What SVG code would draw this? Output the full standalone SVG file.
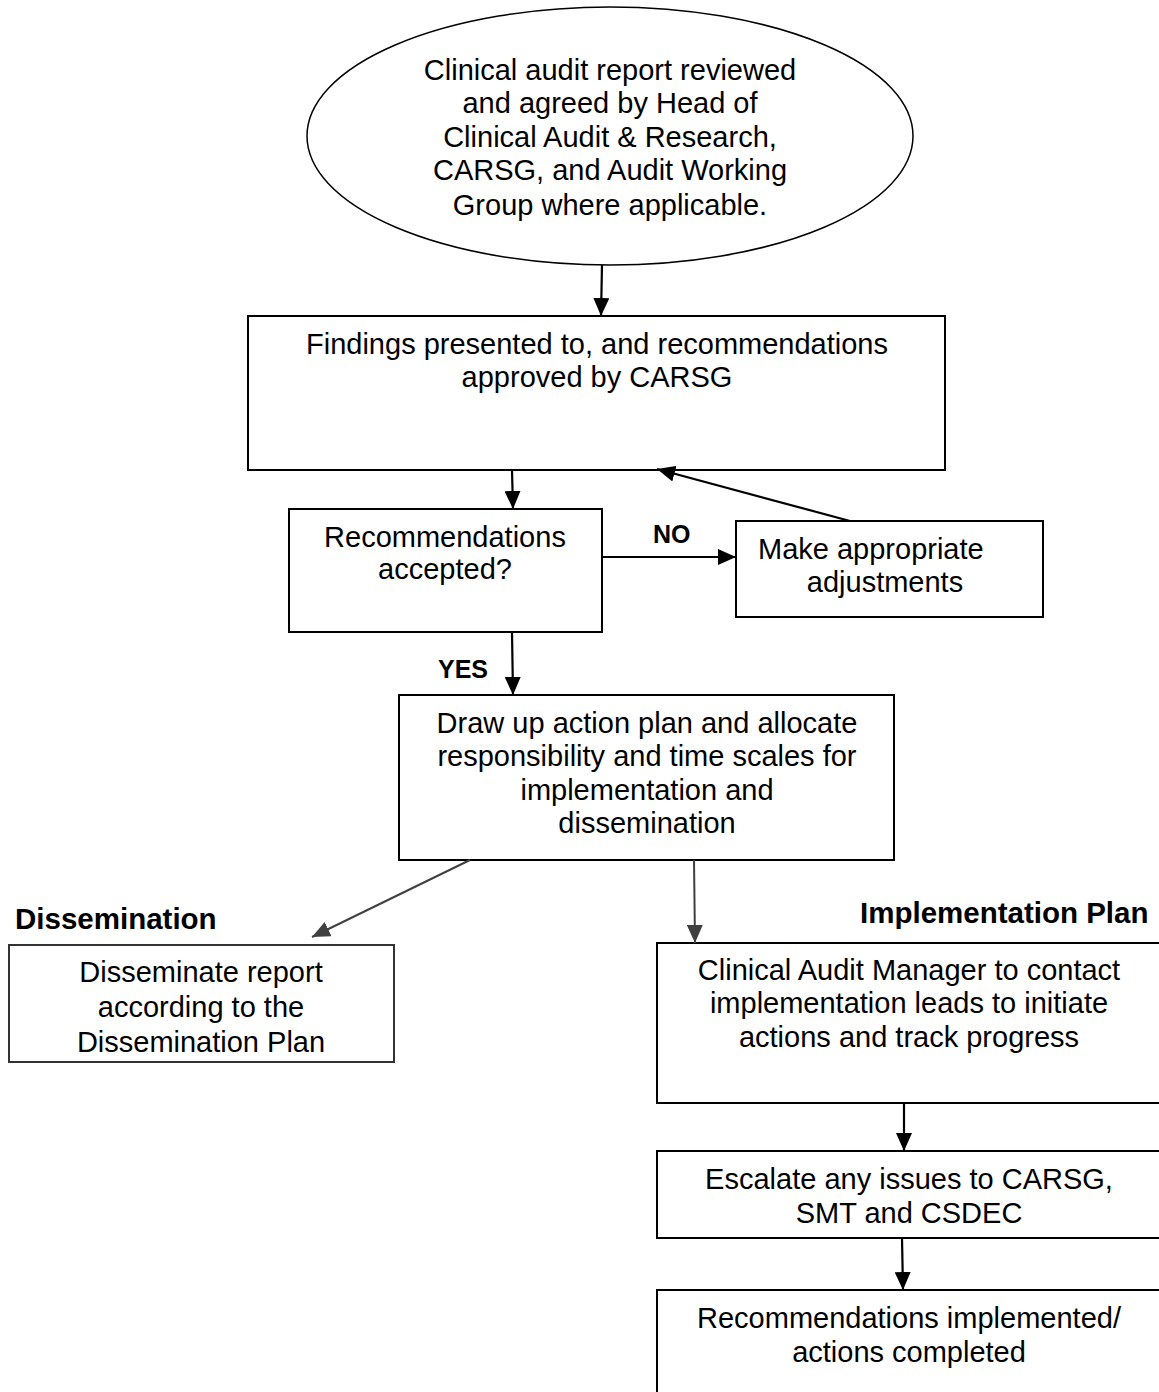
<svg xmlns="http://www.w3.org/2000/svg" width="1159" height="1392" viewBox="0 0 1159 1392">
<style>
.box{fill:#fff;stroke:#000;stroke-width:2}
.box5{fill:#fff;stroke:#333;stroke-width:2}
.t{font-family:"Liberation Sans",Arial,sans-serif;font-size:29px;fill:#000;text-anchor:middle}
.ts{font-family:"Liberation Sans",Arial,sans-serif;font-size:29px;fill:#000}
.lbl{font-family:"Liberation Sans",Arial,sans-serif;font-weight:bold;font-size:25px;fill:#000}
.hd{font-family:"Liberation Sans",Arial,sans-serif;font-weight:bold;font-size:29.5px;fill:#000}
.c{fill:none;stroke:#000;stroke-width:2.2}
.cg{fill:none;stroke:#404040;stroke-width:2}
</style>
<defs>
<marker id="ah" markerUnits="userSpaceOnUse" markerWidth="20" markerHeight="16" refX="18" refY="8" orient="auto"><path d="M0,0 L18,8 L0,16 z" fill="#000"/></marker>
<marker id="ahg" markerUnits="userSpaceOnUse" markerWidth="20" markerHeight="16" refX="18" refY="8" orient="auto"><path d="M0,0 L18,8 L0,16 z" fill="#404040"/></marker>
</defs>
<rect width="1159" height="1392" fill="#fff"/>
<g id="n1">
<ellipse cx="610" cy="136" rx="303" ry="129" fill="#fff" stroke="#000" stroke-width="1.5"/>
<text class="t" x="610" y="80">Clinical audit report reviewed</text>
<text class="t" x="610" y="113">and agreed by Head of</text>
<text class="t" x="610" y="147">Clinical Audit &amp; Research,</text>
<text class="t" x="610" y="180">CARSG, and Audit Working</text>
<text class="t" x="610" y="215">Group where applicable.</text>
</g>
<g id="n2">
<rect class="box" x="248" y="316" width="697" height="154"/>
<text class="t" x="597" y="354">Findings presented to, and recommendations</text>
<text class="t" x="597" y="387">approved by CARSG</text>
</g>
<g id="n3">
<rect class="box" x="289" y="509" width="313" height="123"/>
<text class="t" x="445" y="547">Recommendations</text>
<text class="t" x="445" y="579">accepted?</text>
</g>
<g id="n4">
<rect class="box" x="736" y="521" width="307" height="96"/>
<text class="ts" x="758" y="559">Make appropriate</text>
<text class="t" x="885" y="592">adjustments</text>
</g>
<g id="n5">
<rect class="box" x="399" y="695" width="495" height="165"/>
<text class="t" x="647" y="733">Draw up action plan and allocate</text>
<text class="t" x="647" y="766">responsibility and time scales for</text>
<text class="t" x="647" y="800">implementation and</text>
<text class="t" x="647" y="833">dissemination</text>
</g>
<g id="n6">
<rect class="box5" x="9" y="945" width="385" height="117"/>
<text class="t" x="201" y="982">Disseminate report</text>
<text class="t" x="201" y="1017">according to the</text>
<text class="t" x="201" y="1052">Dissemination Plan</text>
</g>
<g id="n7">
<rect class="box" x="657" y="943" width="520" height="160"/>
<text class="t" x="909" y="980">Clinical Audit Manager to contact</text>
<text class="t" x="909" y="1013">implementation leads to initiate</text>
<text class="t" x="909" y="1047">actions and track progress</text>
</g>
<g id="n8">
<rect class="box" x="657" y="1151" width="520" height="87"/>
<text class="t" x="909" y="1189">Escalate any issues to CARSG,</text>
<text class="t" x="909" y="1223">SMT and CSDEC</text>
</g>
<g id="n9">
<rect class="box" x="657" y="1290" width="520" height="120"/>
<text class="t" x="909" y="1328">Recommendations implemented/</text>
<text class="t" x="909" y="1362">actions completed</text>
</g>
<g id="labels">
<text class="lbl" x="653" y="543">NO</text>
<text class="lbl" x="438" y="678">YES</text>
<text class="hd" x="15" y="929">Dissemination</text>
<text class="hd" x="860" y="923">Implementation Plan</text>
</g>
<g id="connectors">
<line class="c" x1="602" y1="265" x2="601" y2="316" marker-end="url(#ah)"/>
<line class="c" x1="512" y1="470" x2="513" y2="509" marker-end="url(#ah)"/>
<line class="c" x1="602" y1="557" x2="736" y2="557" marker-end="url(#ah)"/>
<line class="c" x1="850" y1="521" x2="657" y2="469" marker-end="url(#ah)"/>
<line class="c" x1="512" y1="632" x2="513" y2="695" marker-end="url(#ah)"/>
<line class="cg" x1="470" y1="860" x2="312" y2="937" marker-end="url(#ahg)"/>
<line class="cg" x1="694" y1="860" x2="695" y2="943" marker-end="url(#ahg)"/>
<line class="c" x1="904" y1="1103" x2="904" y2="1151" marker-end="url(#ah)"/>
<line class="c" x1="902" y1="1238" x2="903" y2="1290" marker-end="url(#ah)"/>
</g>
</svg>
